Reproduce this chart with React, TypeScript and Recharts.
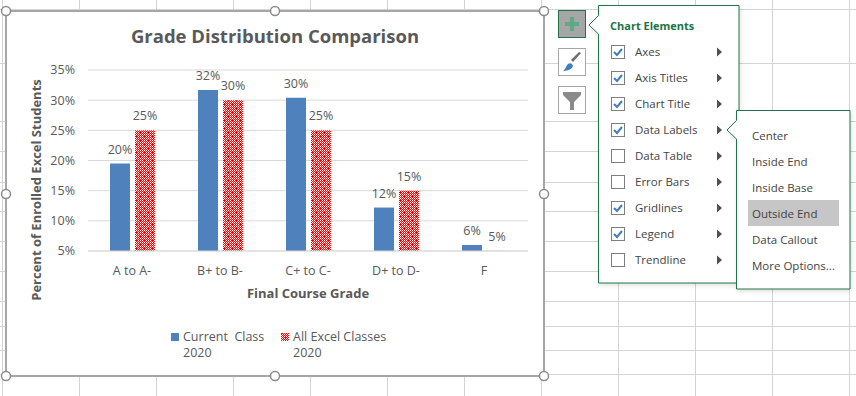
import React from "react";
import { BarChart, Bar, XAxis, YAxis, CartesianGrid, Legend, LabelList } from "recharts";

const categories = ["A to A-", "B+ to B-", "C+ to C-", "D+ to D-", "F"];
const currentClass = [19.5, 31.7, 30.4, 12.2, 6];
const allExcelClasses = [25, 30, 25, 15, 5.01];
const yTicks = [5, 10, 15, 20, 25, 30, 35];
const seriesNames = ["Current  Class 2020", "All Excel Classes 2020"];
const chartElements = ["Axes", "Axis Titles", "Chart Title", "Data Labels", "Data Table", "Error Bars", "Gridlines", "Legend", "Trendline"];
const checkedElements = [true, true, true, true, false, false, true, true, false];
const labelPositions = ["Center", "Inside End", "Inside Base", "Outside End", "Data Callout", "More Options..."];

const sheetColumns = [2, 79, 156, 233, 310, 387, 464, 541, 618, 695, 772, 849];
const sheetRows = [9, 63, 121, 151, 182, 211, 241, 271, 301, 326, 350, 374];
const handles: [number, number][] = [[6, 11], [275, 11], [544, 11], [6, 194], [544, 194], [6, 376], [275, 376], [544, 376]];
const patternSteps = [0, 1, 2, 3, 4, 5, 6, 7];

const data = categories.map((c, i) => ({ category: c, current: currentClass[i], all: allExcelClasses[i] }));

const FONT = "'Open Sans', sans-serif";
const TXT = "#595959";
const GREEN = "#217346";
const BLUE = "#4f81bd";
const RED_FILL = "url(#redCheck)";

const pct = (v: any) => `${Math.round(Number(v))}%`;

function LegendContent({ payload }: any) {
  return (
    <div style={{ display: "flex", fontFamily: FONT, fontSize: 12.5, lineHeight: "16px", color: TXT }}>
      {(payload || []).map((p: any, i: number) => (
        <div key={i} style={{ display: "flex", width: i === 0 ? 110 : 130 }}>
          <svg width={8} height={8} style={{ marginTop: 4, marginRight: 4, flex: "none" }}>
            <rect width={8} height={8} fill={p.color} />
          </svg>
          <div style={{ whiteSpace: "pre-wrap", width: i === 0 ? 95 : 112 }}>{p.value}</div>
        </div>
      ))}
    </div>
  );
}

export default function App() {
  return (
    <div style={{ position: "absolute", left: 0, top: 0, width: 856, height: 396, background: "#fff", overflow: "hidden" }}>
      <svg width={856} height={396} style={{ position: "absolute", left: 0, top: 0 }}>
        {sheetColumns.map((x) => <line key={x} x1={x + 0.5} x2={x + 0.5} y1={0} y2={396} stroke="#d4d4d4" />)}
        {sheetRows.map((y) => <line key={y} x1={0} x2={856} y1={y + 0.5} y2={y + 0.5} stroke="#d4d4d4" />)}
        <rect x={6} y={11} width={538} height={365} fill="#fff" stroke="#a6a6a6" strokeWidth={2} />
      </svg>

      <div style={{ position: "absolute", left: 0, top: 0 }}>
        <BarChart
          width={856}
          height={396}
          data={data}
          barSize={20}
          barGap={5}
          margin={{ top: 70, right: 328, bottom: 115, left: 48 }}
          style={{ fontFamily: FONT }}
        >
          <defs>
            <pattern id="redCheck" patternUnits="userSpaceOnUse" width={8} height={8}>
              <rect width={8} height={8} fill="#ff0000" />
              {patternSteps.flatMap((a) => patternSteps.map((b) => (
                (a + b) % 2 !== 0 || (a === 0 && b === 0) || (a === 4 && b === 4) ? null :
                <rect key={`${a}-${b}`} x={a} y={b} width={1} height={1} fill="#fff" shapeRendering="crispEdges" />
              )))}
            </pattern>
          </defs>
          <text x={275} y={43} textAnchor="middle" fontFamily={FONT} fontSize={18.5} fontWeight={700} fill={TXT}>
            Grade Distribution Comparison
          </text>
          <text transform="translate(41,190) rotate(-90)" textAnchor="middle" fontFamily={FONT} fontSize={13} fontWeight={700} fill={TXT}>
            Percent of Enrolled Excel Students
          </text>
          <CartesianGrid vertical={false} stroke="#d9d9d9" />
          <XAxis
            dataKey="category"
            height={30}
            axisLine={{ stroke: "#d9d9d9" }}
            tickLine={false}
            tickMargin={9}
            interval={0}
            tick={{ fontSize: 12.5, fill: TXT, fontFamily: FONT }}
            label={{ value: "Final Course Grade", position: "bottom", offset: 8, fontSize: 13, fontWeight: 700, fill: TXT, fontFamily: FONT }}
          />
          <YAxis
            width={40}
            domain={[5, 35]}
            ticks={yTicks}
            allowDataOverflow
            axisLine={false}
            tickLine={false}
            tickMargin={7}
            tickFormatter={(v: number) => `${v}%`}
            tick={{ fontSize: 12.5, fill: TXT, fontFamily: FONT }}
          />
          <Legend
            layout="horizontal"
            verticalAlign="middle"
            align="center"
            itemSorter={null}
            content={<LegendContent />}
            wrapperStyle={{ position: "absolute", left: 171, top: 329, width: 260, height: 34 }}
          />
          <Bar dataKey="current" name={seriesNames[0]} fill={BLUE} isAnimationActive={false}>
            <LabelList dataKey="current" position="top" offset={10} formatter={pct} fontSize={12.5} fill={TXT} fontFamily={FONT} />
          </Bar>
          <Bar dataKey="all" name={seriesNames[1]} fill={RED_FILL} isAnimationActive={false}>
            <LabelList dataKey="all" position="top" offset={10} formatter={pct} fontSize={12.5} fill={TXT} fontFamily={FONT} />
          </Bar>
        </BarChart>
      </div>

      <svg width={856} height={396} style={{ position: "absolute", left: 0, top: 0, pointerEvents: "none" }} fontFamily={FONT}>
        <defs>
          <filter id="menuShadow" x="-10%" y="-10%" width="120%" height="120%">
            <feDropShadow dx={1} dy={2} stdDeviation={2} floodColor="#000" floodOpacity={0.12} />
          </filter>
        </defs>
        {handles.map(([x, y], i) => (
          <circle key={i} cx={x} cy={y} r={4.5} fill="#fff" stroke="#8c8c8c" strokeWidth={1.5} />
        ))}

        {/* side buttons */}
        <rect x={558.5} y={10.5} width={27} height={27} fill="#a6a6a6" stroke={GREEN} />
        <path d="M570 17h4v5h5v4h-5v5h-4v-5h-5v-4h5z" fill="#5fa98a" />
        <rect x={558.5} y={48.5} width={27} height={27} fill="#fff" stroke="#a6a6a6" />
        <path d="M581 53l-8 9-2-2 8-8z" fill="#6d6d6d" />
        <path d="M563 71c2-1 3-5 5-7 1-1 3-1 4 0 1 1 1 3 0 4-2 2-6 3-9 3z" fill="#3f7fc1" />
        <rect x={558.5} y={86.5} width={27} height={27} fill="#fff" stroke="#a6a6a6" />
        <path d="M563 92h18v3l-7 7v8h-4v-8l-7-7z" fill="#8a8a8a" />

        {/* chart elements panel */}
        <path d="M598.5 5.5H739V283H598.5V34L589 25l9.5-9.5z" fill="#fff" stroke={GREEN} filter="url(#menuShadow)" />
        <text x={610} y={30} fontSize={11} fontWeight={700} fill={GREEN}>Chart Elements</text>
        {chartElements.map((label, i) => {
          const cy = 52 + i * 26;
          return (
            <g key={label}>
              <rect x={611.5} y={cy - 6.5} width={13} height={13} fill="#fff" stroke="#7f7f7f" />
              {checkedElements[i] && <path d={`M614 ${cy} l3 3 l5-6`} fill="none" stroke="#3f7fc1" strokeWidth={2} />}
              <text x={635} y={cy + 4} fontSize={11.5} fill="#444">{label}</text>
              <path d={`M717 ${cy - 4.5} l5 4.5 l-5 4.5z`} fill="#505050" />
            </g>
          );
        })}

        {/* data label submenu */}
        <path d="M736.5 110.5H850V289H736.5V139L727 130l9.5-9.5z" fill="#fff" stroke={GREEN} filter="url(#menuShadow)" />
        <rect x={748} y={200} width={91} height={26} fill="#c6c6c6" />
        {labelPositions.map((label, i) => (
          <text key={label} x={752} y={140 + i * 26} fontSize={11.5} fill="#444">{label}</text>
        ))}
      </svg>
    </div>
  );
}
